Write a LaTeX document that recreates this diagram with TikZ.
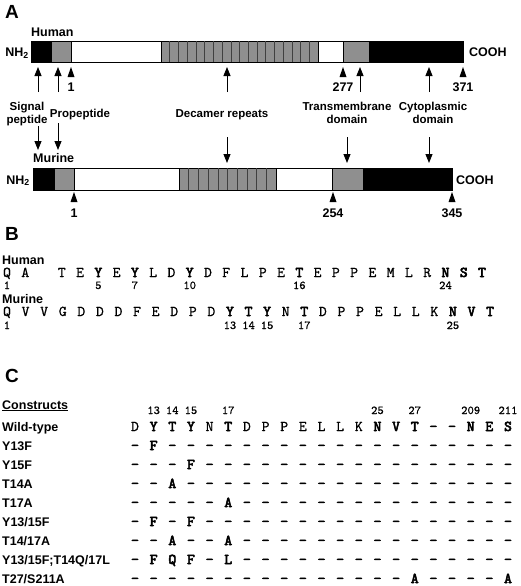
\documentclass[tikz,border=0pt]{standalone}
\usepackage{fontspec}
\setmainfont{Liberation Sans}
\newfontfamily\seqfont{lmmono10-regular.otf}[FakeBold=0.8,
  BoldFont=lmmono10-regular.otf, BoldFeatures={FakeBold=3.5}]
\usetikzlibrary{arrows.meta}
\definecolor{domgray}{gray}{0.56}

\begin{document}
\begin{tikzpicture}[x=1pt, y=-1pt, >={Triangle[length=9pt,width=7pt]},
  every node/.style={inner sep=0pt},
  panel/.style={font=\bfseries\fontsize{19}{19}\selectfont, anchor=base west},
  tag/.style={font=\bfseries\fontsize{12.5}{13}\selectfont},
  lbl/.style={font=\bfseries\fontsize{11.5}{12.5}\selectfont, align=center},
  posnum/.style={font=\bfseries\fontsize{12.5}{13}\selectfont, anchor=base},
  cname/.style={font=\bfseries\fontsize{12.5}{13}\selectfont, anchor=base west},
  res/.style={font=\seqfont\fontsize{15}{15}\selectfont, anchor=base},
  resb/.style={font=\seqfont\bfseries\fontsize{15}{15}\selectfont, anchor=base},
  idx/.style={font=\seqfont\fontsize{12}{12}\selectfont, anchor=base},
  seg/.style={draw=black, line width=0.9pt},
  arr/.style={->, line width=0.9pt}]
  \useasboundingbox (0,0) rectangle (520,586);

  % A: human
  \node[panel] (pA) at (5,18.5) {A};
  \node[tag, anchor=base west] (hum) at (31,37) {Human};
  \node[tag, anchor=base east] (hnh) at (29,56.5) {NH\textsubscript{2}};
  \node[tag, anchor=base west] (hcooh) at (469,56.5) {COOH};
  \foreach \a/\b/\c in {31/51/black, 51/71/domgray, 71/161/white, 161/318/domgray,
    318/343/white, 343/369/domgray, 369/463/black}
    \filldraw[seg, fill=\c] (\a,41) rectangle (\b,62);
  \foreach \k in {1,...,17}
    \draw[black!75, line width=0.5pt] ({161+\k*157/18},41) -- ++(0,21);
  \foreach \x/\n in {38/sig, 58/pro, 227/dec, 360/tm, 429/cyt} {
    \coordinate (h\n0) at (\x,92);
    \coordinate (h\n1) at (\x,67);
    \draw[arr] (h\n0) -- (h\n1);
  }
  \foreach \x/\n in {71/1, 343/277, 463/371} {
    \fill (\x,67) -- (\x+3.5,77) -- (\x-3.5,77) -- cycle;
    \node[posnum] (hp\n) at (\x,92) {\n};
  }

  \node[lbl, anchor=north] (lsig) at (27,102) {Signal\\peptide};
  \node[lbl, anchor=base] (lpro) at (80,117) {Propeptide};
  \node[lbl, anchor=base] (ldec) at (222,117) {Decamer repeats};
  \node[lbl, anchor=north] (ltm) at (347,102) {Transmembrane\\domain};
  \node[lbl, anchor=north] (lcyt) at (433,102) {Cytoplasmic\\domain};

  % A: murine
  \foreach \x/\n/\t/\b in {38/sig/126/150, 58/pro/123/150, 227/dec/137/163,
    347/tm/137/163, 429/cyt/137/163} {
    \coordinate (m\n0) at (\x,\t);
    \coordinate (m\n1) at (\x,\b);
    \draw[arr] (m\n0) -- (m\n1);
  }
  \node[tag, anchor=base west] (mur) at (33,162) {Murine};
  \node[tag, anchor=base east] (mnh) at (30,184) {NH\textsubscript{2}};
  \node[tag, anchor=base west] (mcooh) at (456,184) {COOH};
  \foreach \a/\b/\c in {33/54/black, 54/74/domgray, 74/179/white, 179/276/domgray,
    276/332/white, 332/363/domgray, 363/452/black}
    \filldraw[seg, fill=\c] (\a,168) rectangle (\b,190);
  \foreach \k in {1,...,9}
    \draw[black!75, line width=0.5pt] ({179+\k*97/10},168) -- ++(0,22);
  \foreach \x/\n in {74/1, 333/254, 452/345} {
    \fill (\x,192) -- (\x+3.5,202) -- (\x-3.5,202) -- cycle;
    \node[posnum] (mp\n) at (\x,217.5) {\n};
  }

  % B
  \node[panel] (pB) at (5,240) {B};
  \node[tag, anchor=base west] (bhum) at (2,264) {Human};
  \foreach \i/\c/\s in {0/Q/res, 1/A/res, 3/T/res, 4/E/res, 5/Y/resb, 6/E/res,
    7/Y/resb, 8/L/res, 9/D/res, 10/Y/resb, 11/D/res, 12/F/res, 13/L/res, 14/P/res,
    15/E/res, 16/T/resb, 17/E/res, 18/P/res, 19/P/res, 20/E/res, 21/M/res,
    22/L/res, 23/R/res, 24/N/resb, 25/S/resb, 26/T/resb}
    \node[\s] (bh\i) at (7+18.27*\i,277) {\c};
  \foreach \i/\n in {0/1, 5/5, 7/7, 10/10, 16/16, 24/24}
    \node[idx] (bhn\i) at (7+18.27*\i,289) {\n};

  \node[tag, anchor=base west] (bmur) at (2,303) {Murine};
  \foreach \i/\c/\s in {0/Q/res, 1/V/res, 2/V/res, 3/G/res, 4/D/res, 5/D/res,
    6/D/res, 7/F/res, 8/E/res, 9/D/res, 10/P/res, 11/D/res, 12/Y/resb, 13/T/resb,
    14/Y/resb, 15/N/res, 16/T/resb, 17/D/res, 18/P/res, 19/P/res, 20/E/res,
    21/L/res, 22/L/res, 23/K/res, 24/N/resb, 25/V/resb, 26/T/resb}
    \node[\s] (bm\i) at (7+18.58*\i,316) {\c};
  \foreach \i/\n in {0/1, 12/13, 13/14, 14/15, 16/17, 24/25}
    \node[idx] (bmn\i) at (7+18.58*\i,329) {\n};

  % C
  \node[panel] (pC) at (5,382) {C};
  \node[cname] (cons) at (2,409) {\underline{Constructs}};
  \foreach \i/\n in {1/13, 2/14, 3/15, 5/17, 13/25, 15/27, 18/209, 20/211}
    \node[idx] (cn\i) at (135+18.65*\i,414) {\n};
  \node[cname] (c0) at (2,431) {Wild-type};
  \foreach \i/\c/\s in {0/D/res, 1/Y/resb, 2/T/resb, 3/Y/resb, 4/N/res, 5/T/resb,
    6/D/res, 7/P/res, 8/P/res, 9/E/res, 10/L/res, 11/L/res, 12/K/res, 13/N/resb,
    14/V/resb, 15/T/resb, 16/–/resb, 17/–/resb, 18/N/resb, 19/E/resb, 20/S/resb}
    \node[\s] (c0m\i) at (135+18.65*\i,431) {\c};
  \foreach \r/\lab/\dl/\ml in {
    1/Y13F/{0,2,3,...,20}/{1/F},
    2/Y15F/{0,1,2,4,5,...,20}/{3/F},
    3/T14A/{0,1,3,4,...,20}/{2/A},
    4/T17A/{0,1,2,3,4,6,7,...,20}/{5/A},
    5/{Y13/15F}/{0,2,4,5,...,20}/{1/F,3/F},
    6/{T14/17A}/{0,1,3,4,6,7,...,20}/{2/A,5/A},
    7/{Y13/15F;T14Q/17L}/{0,4,6,7,...,20}/{1/F,2/Q,3/F,5/L},
    8/{T27/S211A}/{16,17,18,19,0,1,...,14}/{15/A,20/A}} {
    \node[cname] (c\r) at (2,431+19*\r) {\lab};
    \foreach \i in \dl
      \node[resb] (c\r d\i) at (135+18.65*\i,431+19*\r) {–};
    \foreach \i/\c in \ml
      \node[resb] (c\r m\i) at (135+18.65*\i,431+19*\r) {\c};
  }
\end{tikzpicture}
\end{document}
